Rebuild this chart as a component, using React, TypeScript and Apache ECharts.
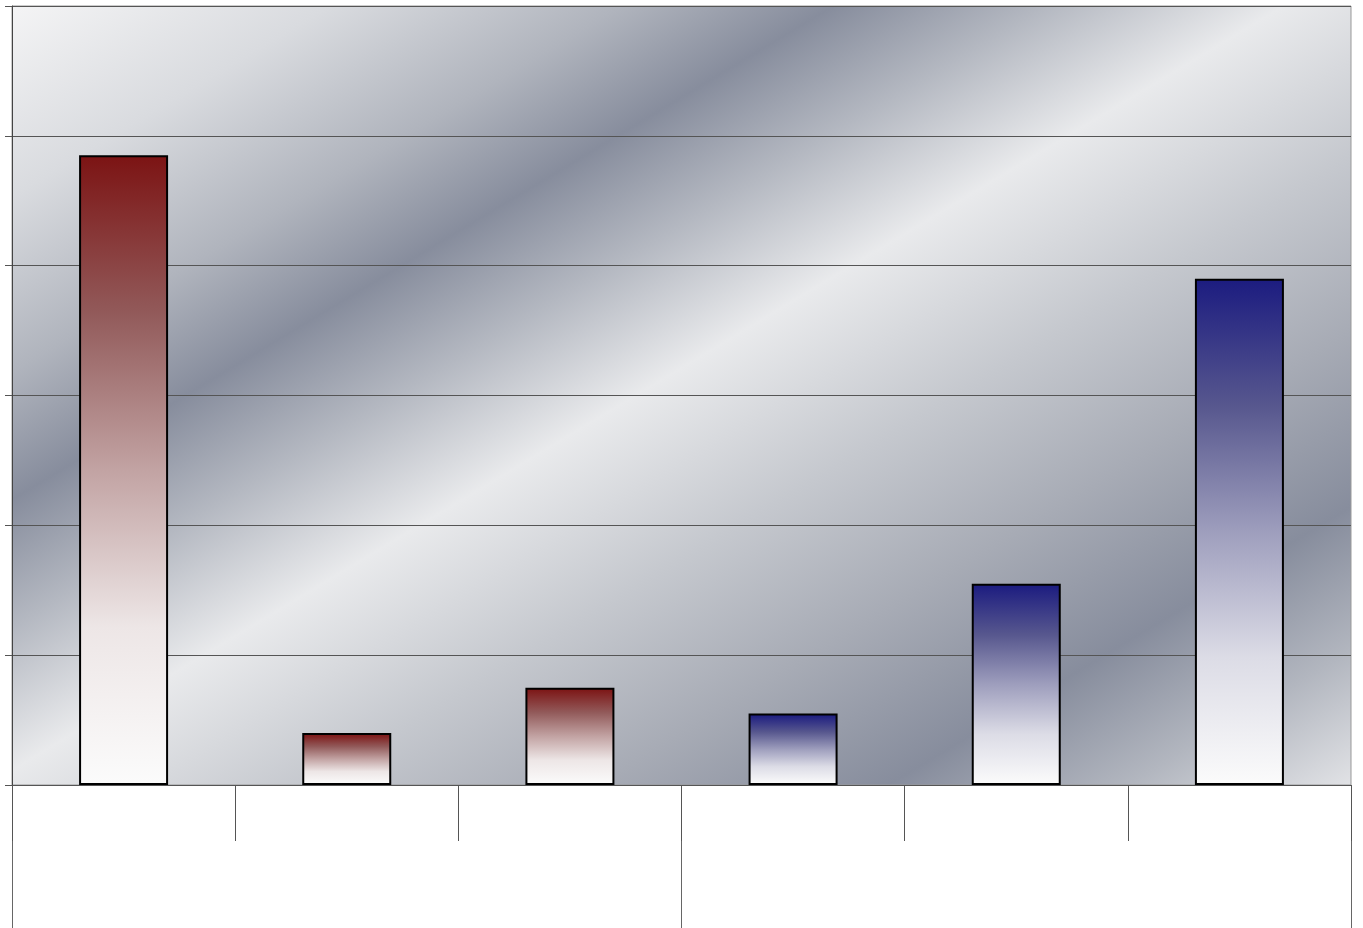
import React, { useEffect, useRef } from "react";
import * as echarts from "echarts";

const categories = ["1", "2", "3", "4", "5", "6"];
const groups = ["A", "B"];
const values = [4.85, 0.4, 0.75, 0.55, 1.55, 3.9];
const groupOfBar = [0, 0, 0, 1, 1, 1];

const W = 1363;
const H = 928;
const G = { left: 12, top: 6, right: 12, bottom: 143 };

const redStops = [
  { offset: 0, color: "#7c1414" },
  { offset: 0.25, color: "#925a5a" },
  { offset: 0.5, color: "#c2a3a3" },
  { offset: 0.75, color: "#ede6e6" },
  { offset: 1, color: "#fbfbfb" },
];
const blueStops = [
  { offset: 0, color: "#1c1c80" },
  { offset: 0.25, color: "#57578e" },
  { offset: 0.5, color: "#9e9ebd" },
  { offset: 0.75, color: "#dcdce6" },
  { offset: 1, color: "#fbfbfb" },
];

const bgStops = [
  { offset: 0, color: "#f4f4f5" },
  { offset: 0.12, color: "#d9dbdf" },
  { offset: 0.23, color: "#b0b4bd" },
  { offset: 0.31, color: "#878d9d" },
  { offset: 0.39, color: "#b4b8c1" },
  { offset: 0.48, color: "#e9eaec" },
  { offset: 0.6, color: "#c5c8ce" },
  { offset: 0.71, color: "#a7abb5" },
  { offset: 0.82, color: "#878d9d" },
  { offset: 0.91, color: "#b2b6bf" },
  { offset: 1, color: "#e4e5e8" },
];

export default function App() {
  const ref = useRef<HTMLDivElement>(null);
  useEffect(() => {
    if (!ref.current) return;
    const chart = echarts.init(ref.current, null, { renderer: "svg" });
    const L = 1365;
    const bg = new echarts.graphic.LinearGradient(
      G.left,
      G.top,
      G.left + 0.515 * L,
      G.top + 0.857 * L,
      bgStops,
      true
    );
    const data = values.map((v, i) => ({
      value: v,
      itemStyle: {
        color: new echarts.graphic.LinearGradient(0, 0, 0, 1, groupOfBar[i] === 0 ? redStops : blueStops),
        borderColor: "#000",
        borderWidth: 2,
      },
    }));
    chart.setOption({
      animation: false,
      grid: {
        ...G,
        show: true,
        backgroundColor: bg,
        borderColor: "#999",
        borderWidth: 1,
        containLabel: false,
      },
      xAxis: [
        {
          type: "category",
          data: categories,
          position: "bottom",
          boundaryGap: true,
          axisLine: { show: true, lineStyle: { color: "#555", width: 1 } },
          axisTick: { show: true, interval: 0, length: 56, lineStyle: { color: "#555" } },
          axisLabel: { show: false },
          splitLine: { show: false },
          z: 5,
        },
        {
          type: "category",
          data: groups,
          position: "bottom",
          boundaryGap: true,
          axisLine: { show: false },
          axisTick: { show: true, interval: 0, length: 143, lineStyle: { color: "#666" } },
          axisLabel: { show: false },
          splitLine: { show: false },
        },
      ],
      yAxis: {
        type: "value",
        min: 0,
        max: 6,
        interval: 1,
        axisLine: { show: true, lineStyle: { color: "#444", width: 1 } },
        axisTick: { show: true, length: 7, lineStyle: { color: "#555" } },
        axisLabel: { show: false },
        splitLine: { show: true, lineStyle: { color: "#555", width: 1 } },
      },
      series: [
        {
          type: "bar",
          xAxisIndex: 0,
          data,
          barWidth: 89,
        },
      ],
    });
    return () => chart.dispose();
  }, []);
  return (
    <div
      ref={ref}
      style={{ position: "absolute", left: 0, top: 0, width: W, height: H, background: "#fff" }}
    />
  );
}
